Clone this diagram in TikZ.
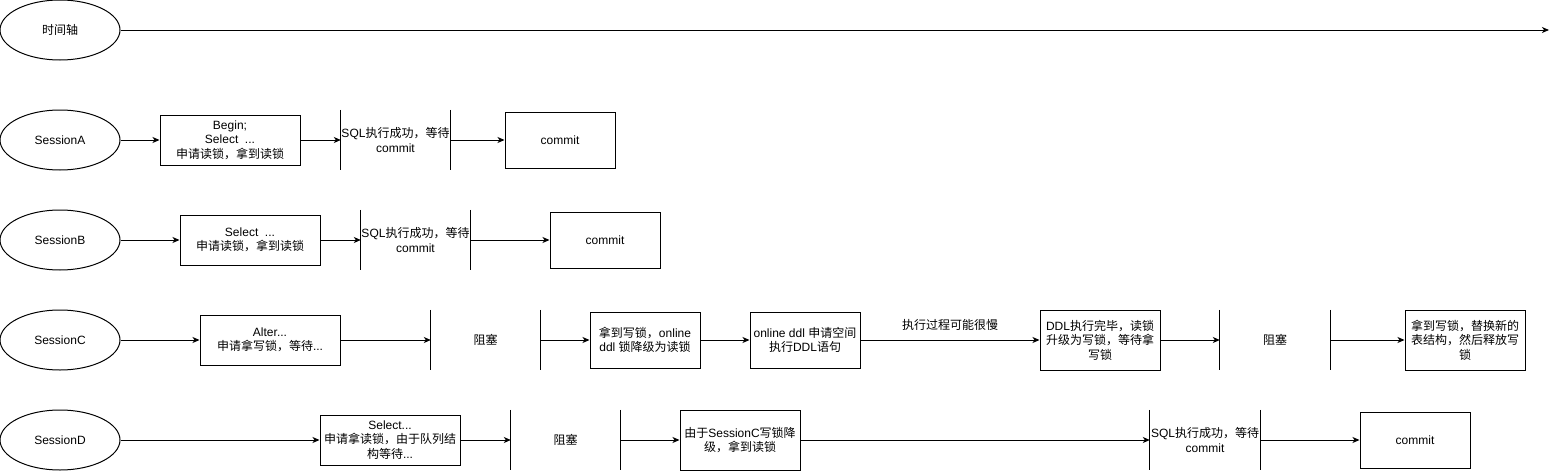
\documentclass[tikz,border=0pt]{standalone}
\usepackage{fontspec}
\setmainfont{Liberation Sans}
\newfontfamily\cjkfont{Noto Sans CJK SC}
\newfontfamily\latinfont{Liberation Sans}
\usetikzlibrary{shapes.geometric,arrows.meta}
\XeTeXinterchartokenstate=1
\newXeTeXintercharclass\cjkcls
\makeatletter
\count@="3000
\loop \XeTeXcharclass\count@=\cjkcls \ifnum\count@<"303F \advance\count@ by 1 \repeat
\count@="4E00
\loop \XeTeXcharclass\count@=\cjkcls \ifnum\count@<"9FFF \advance\count@ by 1 \repeat
\count@="FF00
\loop \XeTeXcharclass\count@=\cjkcls \ifnum\count@<"FFEF \advance\count@ by 1 \repeat
\makeatother
\XeTeXinterchartoks 0 \cjkcls = {\cjkfont}
\XeTeXinterchartoks 4095 \cjkcls = {\cjkfont}
\XeTeXinterchartoks \cjkcls 0 = {\latinfont}
\XeTeXinterchartoks \cjkcls 4095 = {\latinfont}
\tikzset{
  every node/.style={font=\fontsize{12}{14.4}\selectfont, align=center, inner sep=0pt, text=black},
  sess/.style={ellipse, draw, line width=1pt, minimum width=120pt, minimum height=60pt},
  box/.style={rectangle, draw, line width=1pt},
  gate/.style={rectangle, minimum height=60pt},
  conn/.style={line width=1pt, -{Stealth[length=7pt,width=6pt,inset=2pt]}},
  bar/.style={line width=1pt}
}
\begin{document}
\begin{tikzpicture}[x=1pt,y=-1pt]
\useasboundingbox (0,0) rectangle (1559,471);
% timeline
\node[sess] (t) at (60,30) {时间轴};
\coordinate (tend) at (1549,30);
\draw[conn] (t) -- (tend);

% Session A
\node[sess] (sA) at (60,140) {SessionA};
\node[box, minimum width=140pt, minimum height=50pt] (a1) at (230,140) {Begin;\\Select \ ...\\申请读锁，拿到读锁};
\node[gate, minimum width=109pt] (a2) at (395.5,140) {SQL执行成功，等待\\commit};
\node[box, minimum width=110pt, minimum height=56pt] (a3) at (560,140) {commit};
\draw[bar] (a2.north west) -- (a2.south west) (a2.north east) -- (a2.south east);
\draw[conn] (sA) -- (a1);
\draw[conn] (a1) -- (a2.west);
\draw[conn] (a2.east) -- (a3);

% Session B
\node[sess] (sB) at (60,240) {SessionB};
\node[box, minimum width=140pt, minimum height=50pt] (b1) at (250,240) {Select \ ...\\申请读锁，拿到读锁};
\node[gate, minimum width=109pt] (b2) at (415.5,240) {SQL执行成功，等待\\commit};
\node[box, minimum width=110pt, minimum height=56pt] (b3) at (605,240) {commit};
\draw[bar] (b2.north west) -- (b2.south west) (b2.north east) -- (b2.south east);
\draw[conn] (sB) -- (b1);
\draw[conn] (b1) -- (b2.west);
\draw[conn] (b2.east) -- (b3);

% Session C
\node[sess] (sC) at (60,340) {SessionC};
\node[box, minimum width=140pt, minimum height=50pt] (c1) at (270,340) {Alter...\\申请拿写锁，等待...};
\node[gate, minimum width=109pt] (c2) at (485.5,340) {阻塞};
\node[box, minimum width=110pt, minimum height=56pt] (c3) at (645,340) {拿到写锁，online\\ddl 锁降级为读锁};
\node[box, minimum width=110pt, minimum height=56pt] (c4) at (805,340) {online ddl 申请空间\\执行DDL语句};
\node[box, minimum width=120pt, minimum height=60pt] (c5) at (1100,340) {DDL执行完毕，读锁\\升级为写锁，等待拿\\写锁};
\node[gate, minimum width=110pt] (c6) at (1275,340) {阻塞};
\node[box, minimum width=120pt, minimum height=60pt] (c7) at (1465,340) {拿到写锁，替换新的\\表结构，然后释放写\\锁};
\draw[bar] (c2.north west) -- (c2.south west) (c2.north east) -- (c2.south east);
\draw[bar] (c6.north west) -- (c6.south west) (c6.north east) -- (c6.south east);
\draw[conn] (sC) -- (c1);
\draw[conn] (c1) -- (c2.west);
\draw[conn] (c2.east) -- (c3);
\draw[conn] (c3) -- (c4);
\draw[conn] (c4) -- node[above=9pt] (lbl) {执行过程可能很慢} (c5);
\draw[conn] (c5) -- (c6.west);
\draw[conn] (c6.east) -- (c7);

% Session D
\node[sess] (sD) at (60,440) {SessionD};
\node[box, minimum width=140pt, minimum height=50pt] (d1) at (390,440) {Select...\\申请拿读锁，由于队列结\\构等待...};
\node[gate, minimum width=109pt] (d2) at (565.5,440) {阻塞};
\node[box, minimum width=120pt, minimum height=60pt] (d3) at (740,440) {由于SessionC写锁降\\级，拿到读锁};
\node[gate, minimum width=110pt] (d4) at (1205,440) {SQL执行成功，等待\\commit};
\node[box, minimum width=110pt, minimum height=56pt] (d5) at (1415,440) {commit};
\draw[bar] (d2.north west) -- (d2.south west) (d2.north east) -- (d2.south east);
\draw[bar] (d4.north west) -- (d4.south west) (d4.north east) -- (d4.south east);
\draw[conn] (sD) -- (d1);
\draw[conn] (d1) -- (d2.west);
\draw[conn] (d2.east) -- (d3);
\draw[conn] (d3) -- (d4.west);
\draw[conn] (d4.east) -- (d5);
\end{tikzpicture}
\end{document}
